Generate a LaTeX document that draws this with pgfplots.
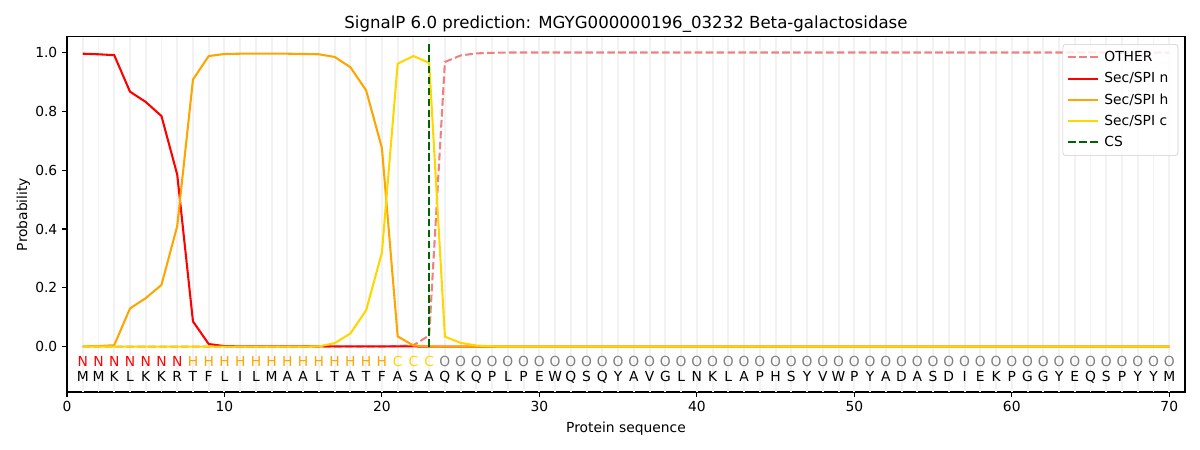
\documentclass[border=0pt]{standalone}
\usepackage{fontspec}
\setmainfont{DejaVu Sans}
\usepackage{pgfplots}
\pgfplotsset{compat=1.18}
\definecolor{lcoral}{RGB}{240,128,128}
\definecolor{sporange}{RGB}{255,165,0}
\definecolor{spgold}{RGB}{255,215,0}
\definecolor{csgreen}{RGB}{0,100,0}
\definecolor{ogray}{RGB}{128,128,128}
\definecolor{gridgray}{RGB}{242,242,242}
\begin{document}
\begin{tikzpicture}
\path[use as bounding box] (-48.42pt,-41.92pt) rectangle (818.84pt,283.3pt);
\begin{axis}[
  at={(0,0)}, anchor=south west,
  scale only axis, width=808pt, height=256.6pt,
  xmin=0, xmax=71, ymin=-0.154, ymax=1.053,
  xtick={0,10,...,70}, ytick={0,0.2,...,1.0},
  yticklabel style={/pgf/number format/.cd, fixed, fixed zerofill, precision=1},
  /pgf/number format/assume math mode=true,
  tick label style={font=\fontsize{10}{12}\selectfont},
  tick align=outside, xtick pos=left, ytick pos=left,
  major tick length=3.5pt,
  tick style={black, line width=0.8pt},
  axis line style={line width=0.8pt},
  extra x ticks={1,...,70}, extra x tick labels={},
  extra x tick style={grid=major, major tick length=0pt, grid style={gridgray, line width=1.4pt}},
  xlabel={Protein sequence}, ylabel={Probability},
  label style={font=\fontsize{10}{12}\selectfont},
  xlabel style={yshift=3.5pt},
  ylabel style={yshift=-3pt},
  title={SignalP 6.0 prediction: MGYG000000196\_03232 Beta-galactosidase},
  title style={font=\fontsize{12}{14}\selectfont, yshift=-6.5pt},
  legend cell align=left,
  legend image code/.code={\draw[#1] (0pt,0pt) -- (21.5pt,0pt);},
  legend style={at={(0.994,0.98)}, anchor=north east, draw=gray!40, rounded corners=2pt,
    font=\fontsize{10}{12}\selectfont, row sep=2.4pt, fill=white, fill opacity=0.85, text opacity=1,
    inner xsep=3pt, inner ysep=3pt,
    nodes={inner xsep=4pt}},
  every axis plot/.append style={line width=1.5pt},
]
% OTHER
\addplot[lcoral, dash pattern=on 5.5pt off 2.4pt] coordinates {
(1,0)(2,0)(3,0)(4,0)(5,0)(6,0)(7,0)(8,0)(9,0)(10,0)
(11,0)(12,0)(13,0)(14,0)(15,0)(16,0)(17,0)(18,0)(19,0)(20,0)
(21,0.002)(22,0.005)(23,0.038)(24,0.968)(25,0.99)(26,0.997)(27,0.999)(28,1)(29,1)(30,1)
(31,1)(32,1)(33,1)(34,1)(35,1)(36,1)(37,1)(38,1)(39,1)(40,1)
(41,1)(42,1)(43,1)(44,1)(45,1)(46,1)(47,1)(48,1)(49,1)(50,1)
(51,1)(52,1)(53,1)(54,1)(55,1)(56,1)(57,1)(58,1)(59,1)(60,1)
(61,1)(62,1)(63,1)(64,1)(65,1)(66,1)(67,1)(68,1)(69,1)(70,1)};
\addlegendentry{OTHER}
% Sec/SPI n
\addplot[red] coordinates {
(1,0.996)(2,0.994)(3,0.991)(4,0.867)(5,0.832)(6,0.784)(7,0.585)(8,0.086)(9,0.009)(10,0.002)
(11,0.001)(12,0.001)(13,0.001)(14,0.001)(15,0.001)(16,0.001)(17,0.001)(18,0.001)(19,0.001)(20,0.001)
(21,0.001)(22,0.001)(23,0)(24,0)(25,0)(26,0)(27,0)(28,0)(29,0)(30,0)
(31,0)(32,0)(33,0)(34,0)(35,0)(36,0)(37,0)(38,0)(39,0)(40,0)
(41,0)(42,0)(43,0)(44,0)(45,0)(46,0)(47,0)(48,0)(49,0)(50,0)
(51,0)(52,0)(53,0)(54,0)(55,0)(56,0)(57,0)(58,0)(59,0)(60,0)
(61,0)(62,0)(63,0)(64,0)(65,0)(66,0)(67,0)(68,0)(69,0)(70,0)};
\addlegendentry{Sec/SPI n}
% Sec/SPI h
\addplot[sporange] coordinates {
(1,0.001)(2,0.002)(3,0.005)(4,0.13)(5,0.165)(6,0.21)(7,0.41)(8,0.908)(9,0.988)(10,0.995)
(11,0.996)(12,0.996)(13,0.996)(14,0.996)(15,0.995)(16,0.994)(17,0.985)(18,0.95)(19,0.871)(20,0.675)
(21,0.035)(22,0.004)(23,0.001)(24,0)(25,0)(26,0)(27,0)(28,0)(29,0)(30,0)
(31,0)(32,0)(33,0)(34,0)(35,0)(36,0)(37,0)(38,0)(39,0)(40,0)
(41,0)(42,0)(43,0)(44,0)(45,0)(46,0)(47,0)(48,0)(49,0)(50,0)
(51,0)(52,0)(53,0)(54,0)(55,0)(56,0)(57,0)(58,0)(59,0)(60,0)
(61,0)(62,0)(63,0)(64,0)(65,0)(66,0)(67,0)(68,0)(69,0)(70,0)};
\addlegendentry{Sec/SPI h}
% Sec/SPI c
\addplot[spgold] coordinates {
(1,0)(2,0)(3,0)(4,0)(5,0)(6,0)(7,0)(8,0)(9,0)(10,0)
(11,0)(12,0)(13,0)(14,0)(15,0)(16,0.001)(17,0.012)(18,0.045)(19,0.124)(20,0.32)
(21,0.962)(22,0.988)(23,0.965)(24,0.034)(25,0.013)(26,0.004)(27,0.001)(28,0)(29,0)(30,0)
(31,0)(32,0)(33,0)(34,0)(35,0)(36,0)(37,0)(38,0)(39,0)(40,0)
(41,0)(42,0)(43,0)(44,0)(45,0)(46,0)(47,0)(48,0)(49,0)(50,0)
(51,0)(52,0)(53,0)(54,0)(55,0)(56,0)(57,0)(58,0)(59,0)(60,0)
(61,0)(62,0)(63,0)(64,0)(65,0)(66,0)(67,0)(68,0)(69,0)(70,0)};
\addlegendentry{Sec/SPI c}
% CS
\addplot[csgreen, dash pattern=on 5.5pt off 2.4pt] coordinates {(23,0)(23,1.04)};
\addlegendentry{CS}
% label rows
\pgfplotsset{letters/.style={forget plot, draw=none, mark=none, nodes near coords, point meta=explicit symbolic,
  nodes near coords style={anchor=base, inner sep=0pt, font=\fontsize{10}{12}\selectfont, text=#1}}}
\addplot[letters=red] table[meta=t] {
x y t
1 -0.068 N
2 -0.068 N
3 -0.068 N
4 -0.068 N
5 -0.068 N
6 -0.068 N
7 -0.068 N
};
\addplot[letters=sporange] table[meta=t] {
x y t
8 -0.068 H
9 -0.068 H
10 -0.068 H
11 -0.068 H
12 -0.068 H
13 -0.068 H
14 -0.068 H
15 -0.068 H
16 -0.068 H
17 -0.068 H
18 -0.068 H
19 -0.068 H
20 -0.068 H
};
\addplot[letters=spgold] table[meta=t] {
x y t
21 -0.068 C
22 -0.068 C
23 -0.068 C
};
\addplot[letters=ogray] table[meta=t] {
x y t
24 -0.068 O
25 -0.068 O
26 -0.068 O
27 -0.068 O
28 -0.068 O
29 -0.068 O
30 -0.068 O
31 -0.068 O
32 -0.068 O
33 -0.068 O
34 -0.068 O
35 -0.068 O
36 -0.068 O
37 -0.068 O
38 -0.068 O
39 -0.068 O
40 -0.068 O
41 -0.068 O
42 -0.068 O
43 -0.068 O
44 -0.068 O
45 -0.068 O
46 -0.068 O
47 -0.068 O
48 -0.068 O
49 -0.068 O
50 -0.068 O
51 -0.068 O
52 -0.068 O
53 -0.068 O
54 -0.068 O
55 -0.068 O
56 -0.068 O
57 -0.068 O
58 -0.068 O
59 -0.068 O
60 -0.068 O
61 -0.068 O
62 -0.068 O
63 -0.068 O
64 -0.068 O
65 -0.068 O
66 -0.068 O
67 -0.068 O
68 -0.068 O
69 -0.068 O
70 -0.068 O
};
\addplot[letters=black] table[meta=t] {
x y t
1 -0.119 M
2 -0.119 M
3 -0.119 K
4 -0.119 L
5 -0.119 K
6 -0.119 K
7 -0.119 R
8 -0.119 T
9 -0.119 F
10 -0.119 L
11 -0.119 I
12 -0.119 L
13 -0.119 M
14 -0.119 A
15 -0.119 A
16 -0.119 L
17 -0.119 T
18 -0.119 A
19 -0.119 T
20 -0.119 F
21 -0.119 A
22 -0.119 S
23 -0.119 A
24 -0.119 Q
25 -0.119 K
26 -0.119 Q
27 -0.119 P
28 -0.119 L
29 -0.119 P
30 -0.119 E
31 -0.119 W
32 -0.119 Q
33 -0.119 S
34 -0.119 Q
35 -0.119 Y
36 -0.119 A
37 -0.119 V
38 -0.119 G
39 -0.119 L
40 -0.119 N
41 -0.119 K
42 -0.119 L
43 -0.119 A
44 -0.119 P
45 -0.119 H
46 -0.119 S
47 -0.119 Y
48 -0.119 V
49 -0.119 W
50 -0.119 P
51 -0.119 Y
52 -0.119 A
53 -0.119 D
54 -0.119 A
55 -0.119 S
56 -0.119 D
57 -0.119 I
58 -0.119 E
59 -0.119 K
60 -0.119 P
61 -0.119 G
62 -0.119 G
63 -0.119 Y
64 -0.119 E
65 -0.119 Q
66 -0.119 S
67 -0.119 P
68 -0.119 Y
69 -0.119 Y
70 -0.119 M
};
\end{axis}
\end{tikzpicture}
\end{document}
